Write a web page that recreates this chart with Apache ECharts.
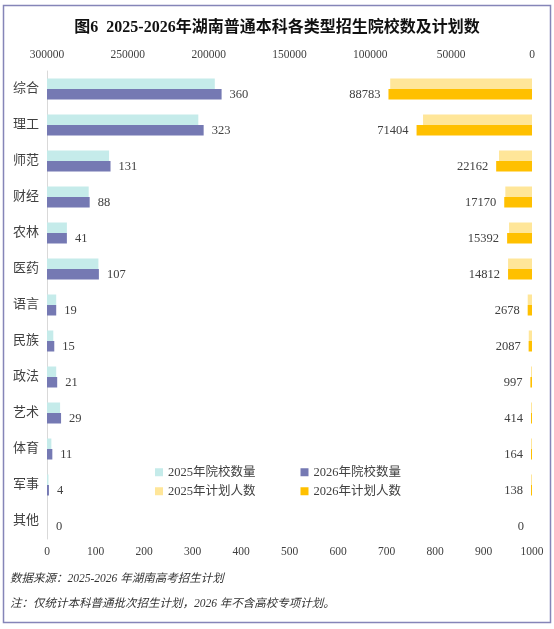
<!DOCTYPE html>
<html>
<head>
<meta charset="utf-8">
<script src="https://cdn.jsdelivr.net/npm/echarts@6/dist/echarts.min.js"></script>
<style>
html,body{margin:0;padding:0;background:#fff;}
#c{width:554px;height:629px;}
</style>
</head>
<body>
<div id="c"></div>
<script>
const categories = ['综合','理工','师范','财经','农林','医药','语言','民族','政法','艺术','体育','军事','其他'];
const schools2025 = [346, 312, 128, 86, 41, 106, 19, 13, 19, 27, 9, 3, 0];
const schools2026 = [360, 323, 131, 88, 41, 107, 19, 15, 21, 29, 11, 4, 0];
const plan2025 = [87700, 67400, 20400, 16500, 14200, 14800, 2650, 2000, 600, 450, 150, 150, 0];
const plan2026 = [88783, 71404, 22162, 17170, 15392, 14812, 2678, 2087, 997, 414, 164, 138, 0];
const seriesNames = ['2025年院校数量','2026年院校数量','2025年计划人数','2026年计划人数'];
const titleText = '图6  2025-2026年湖南普通本科各类型招生院校数及计划数';
const note1 = '数据来源：2025-2026 年湖南高考招生计划';
const note2 = '注：仅统计本科普通批次招生计划，2026 年不含高校专项计划。';

const FONT = "'Liberation Serif', 'Times New Roman', 'Noto Sans CJK SC', serif";
const txt = '#404040';

// zero-valued items are drawn without a visible rect (as in the reference)
function items(arr) {
  return arr.map(v => v === 0 ? {value: v, itemStyle: {color: 'rgba(0,0,0,0)'}} : v);
}

const chart = echarts.init(document.getElementById('c'), null, {renderer: 'canvas'});
chart.setOption({
  animation: false,
  backgroundColor: '#fff',
  textStyle: {fontFamily: FONT},
  title: {
    text: titleText,
    left: 'center',
    top: 15,
    textStyle: {fontFamily: FONT, fontSize: 16, fontWeight: 'bold', color: '#111'}
  },
  legend: [
    {
      data: [seriesNames[0], seriesNames[1]],
      left: 155, top: 466, padding: 0,
      itemWidth: 8, itemHeight: 8, itemGap: 45,
      icon: 'rect',
      textStyle: {fontFamily: FONT, fontSize: 12.5, color: txt}
    },
    {
      data: [seriesNames[2], seriesNames[3]],
      left: 155, top: 485, padding: 0,
      itemWidth: 8, itemHeight: 8, itemGap: 45,
      icon: 'rect',
      textStyle: {fontFamily: FONT, fontSize: 12.5, color: txt}
    }
  ],
  grid: {left: 47, right: 22, top: 71, bottom: 90, containLabel: false},
  xAxis: [
    {
      type: 'value', position: 'bottom', min: 0, max: 1000, interval: 100,
      axisLine: {show: false}, axisTick: {show: false}, splitLine: {show: false},
      axisLabel: {fontFamily: FONT, fontSize: 11.5, color: txt, margin: 7, formatter: v => String(v)}
    },
    {
      type: 'value', position: 'top', inverse: true, min: 0, max: 300000, interval: 50000,
      axisLine: {show: false}, axisTick: {show: false}, splitLine: {show: false},
      axisLabel: {fontFamily: FONT, fontSize: 11.5, color: txt, margin: 10, formatter: v => String(v)}
    }
  ],
  yAxis: [
    {
      type: 'category', data: categories, inverse: true,
      axisLine: {show: true, lineStyle: {color: '#d9d9d9', width: 1}},
      axisTick: {show: false},
      axisLabel: {fontFamily: FONT, fontSize: 13, color: txt, margin: 8}
    },
    {
      type: 'category', data: categories, inverse: true, show: false
    }
  ],
  series: [
    {
      name: seriesNames[0], type: 'bar', xAxisIndex: 0, yAxisIndex: 0,
      data: items(schools2025), barWidth: 10.5, barGap: '0%', barMinHeight: 1,
      itemStyle: {color: '#C5EBEA'}
    },
    {
      name: seriesNames[1], type: 'bar', xAxisIndex: 0, yAxisIndex: 0,
      data: items(schools2026), barWidth: 10.5, barGap: '0%', barMinHeight: 1,
      itemStyle: {color: '#7579B3'},
      label: {show: true, position: 'right', distance: 8, fontFamily: FONT, fontSize: 12.5, color: txt}
    },
    {
      name: seriesNames[2], type: 'bar', xAxisIndex: 1, yAxisIndex: 1,
      data: items(plan2025), barWidth: 10.5, barGap: '0%', barMinHeight: 1,
      itemStyle: {color: '#FFE699'}
    },
    {
      name: seriesNames[3], type: 'bar', xAxisIndex: 1, yAxisIndex: 1,
      data: items(plan2026), barWidth: 10.5, barGap: '0%', barMinHeight: 1,
      itemStyle: {color: '#FFC000'},
      label: {show: true, position: 'left', distance: 8, fontFamily: FONT, fontSize: 12.5, color: txt}
    }
  ],
  graphic: [
    {
      type: 'rect', silent: true,
      shape: {x: 3.5, y: 5.5, width: 547, height: 617},
      style: {fill: 'none', stroke: '#8585B8', lineWidth: 1.5}
    },
    {
      type: 'text', left: 10, top: 573,
      style: {text: note1, font: "italic 11.5px " + FONT, fill: '#333'}
    },
    {
      type: 'text', left: 10, top: 598,
      style: {text: note2, font: "italic 11.5px " + FONT, fill: '#333'}
    }
  ]
});
</script>
</body>
</html>
